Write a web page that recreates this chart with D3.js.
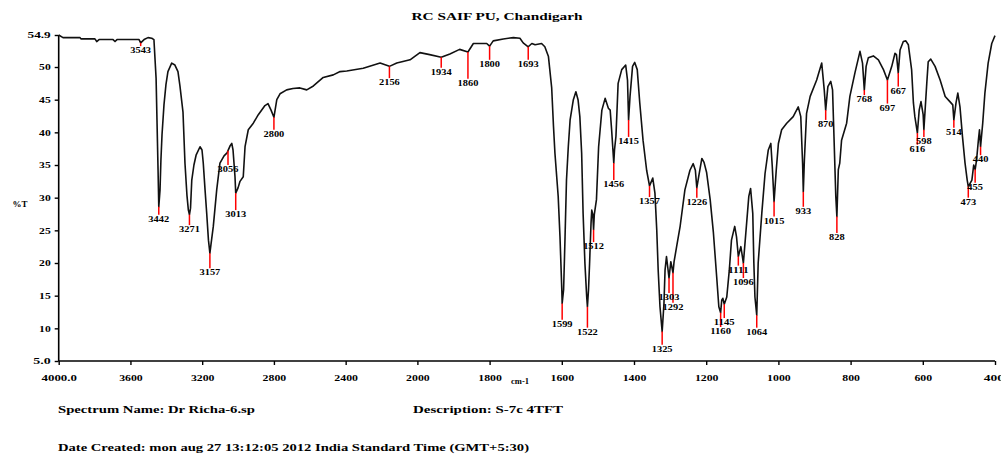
<!DOCTYPE html>
<html>
<head>
<meta charset="utf-8">
<script src="https://cdn.jsdelivr.net/npm/d3@7"></script>
<style>
  body { margin: 0; background: #fff; }
  svg { display: block; }
  text { font-family: "Liberation Serif", "DejaVu Serif", serif; font-weight: bold; fill: #000; }
</style>
</head>
<body>
<div id="chart"></div>
<script>
// spectrum (cm-1 / %T)
var wavenumbers = [4000,3976,3881,3876,3798,3788,3775,3697,3686,3675,3552,3543,3524,3502,3481,3469,3457,3452,3446,3442,
  3435,3430,3424,3413,3402,3391,3370,3352,3335,3324,3307,3296,3285,3277,3271,3265,3258,3246,3234,3212,
  3201,3194,3184,3175,3165,3157,3151,3138,3119,3101,3078,3060,3056,3045,3035,3028,3017,3013,3000,2989,
  2971,2961,2943,2915,2887,2850,2833,2816,2800,2784,2766,2729,2694,2655,2617,2580,2525,2469,2431,2394,
  2302,2208,2156,2115,2041,1993,1966,1934,1910,1883,1860,1845,1808,1800,1790,1762,1734,1716,1707,1693,
  1683,1674,1656,1647,1637,1628,1623,1619,1610,1605,1600,1599,1595,1591,1587,1582,1577,1568,1561,1555,
  1550,1545,1541,1536,1531,1529,1526,1523,1519,1517,1514,1512,1510,1504,1498,1489,1480,1471,1466,1462,
  1456,1454,1450,1444,1434,1423,1418,1415,1411,1404,1398,1391,1384,1375,1365,1357,1348,1342,1337,1333,
  1328,1322,1317,1314,1310,1303,1298,1292,1289,1281,1272,1259,1245,1236,1230,1226,1220,1212,1206,1199,
  1189,1180,1171,1165,1160,1157,1154,1150,1143,1136,1130,1121,1116,1111,1104,1097,1088,1082,1077,1071,
  1068,1065,1060,1056,1046,1037,1028,1021,1017,1012,1006,1000,991,977,959,945,938,933,931,928,
  922,912,894,880,873,869,863,855,850,846,841,838,834,830,825,811,802,788,774,767,
  762,757,751,737,723,709,698,686,677,673,668,663,654,647,640,631,626,622,615,610,
  605,599,597,589,585,578,566,552,538,525,517,514,508,503,497,490,483,477,474,464,
  459,455,451,446,443,440,434,428,419,409,403,400];
var transmittance = [54.9,54.5,54.5,54.3,54.3,53.9,54.2,54.2,53.9,54.2,54.2,53.7,54.2,54.5,54.4,54.2,48.3,41.9,34.2,28.6,
  31.2,35.8,39.6,44.2,47.3,49.3,50.6,50.3,49.3,47.1,43.1,35.3,30.4,28.1,27.4,28.4,32.7,35.0,36.5,37.8,
  37.3,35.3,31.2,27.7,23.5,21.5,22.8,25.6,31.2,35.3,36.4,36.9,37.2,37.9,38.3,37.3,33.2,30.7,31.5,32.5,
  33.2,37.8,40.4,41.4,42.7,44.1,44.4,43.4,42.3,45.0,45.9,46.5,46.7,46.8,46.5,47.1,48.4,48.8,49.3,49.4,
  49.8,50.6,50.1,50.6,51.1,52.2,51.9,51.5,52.0,52.7,52.3,53.6,53.6,53.2,54.0,54.3,54.5,54.4,53.7,53.1,
  53.6,53.4,53.6,53.1,51.6,46.8,40.9,36.8,30.2,24.0,15.9,13.8,15.9,24.0,32.7,37.8,41.9,45.0,46.2,45.0,
  42.4,36.8,27.6,20.0,14.8,13.3,15.9,20.0,26.1,28.1,27.4,25.1,27.4,29.7,37.8,43.4,45.2,43.7,43.4,40.4,
  35.3,37.3,39.4,47.5,49.6,50.3,48.0,41.9,45.5,50.1,50.7,49.6,44.5,38.8,34.2,31.8,33.0,30.7,25.1,18.9,
  13.3,9.5,13.8,18.9,21.0,17.7,20.2,18.5,20.2,22.8,25.7,31.2,34.2,35.2,34.2,31.5,33.5,36.0,35.4,33.9,
  29.7,24.6,17.9,13.3,12.4,14.3,14.6,13.7,14.8,18.9,23.5,25.6,24.0,21.0,22.5,20.0,26.1,30.2,31.4,27.6,
  20.0,14.8,12.0,20.0,27.6,33.7,37.3,38.3,34.8,29.4,34.2,38.3,40.4,41.4,42.4,43.9,42.4,35.3,30.9,35.8,
  42.9,45.5,48.0,50.6,46.5,43.4,47.0,47.8,46.5,39.3,30.2,27.1,34.3,35.3,38.8,41.4,45.5,49.1,52.4,50.6,
  46.5,50.1,51.4,51.7,51.1,49.6,48.0,50.1,52.1,51.9,49.1,52.6,53.9,54.0,53.4,49.6,44.5,42.4,39.9,43.4,
  44.7,42.7,40.4,47.5,50.8,51.2,50.1,48.0,45.5,44.7,44.2,41.9,44.5,46.0,43.9,39.3,35.3,32.7,31.7,32.7,
  35.0,34.3,35.8,38.8,40.4,37.8,41.4,46.0,50.6,53.6,54.4,54.8];

// peak picks
var peakWn   = [3543,3442,3271,3157,3056,3013,2800,2156,1934,1860,1800,1693,1599,1529,1512,1456,1415,1357,1322,1303,
  1292,1226,1160,1150,1111,1097,1060,1012,931,869,838,762,698,668,615,597,514,474,455,440];
var peakT    = [53.7,28.6,27.4,21.5,37.2,30.7,42.3,50.1,51.5,52.3,53.2,53.1,13.8,13.3,25.1,35.3,41.9,31.8,9.5,17.7,
  18.5,31.5,12.4,13.7,21.0,20.0,12.0,29.4,30.9,43.4,27.1,46.5,48.0,49.1,39.9,40.4,41.9,31.7,34.3,37.8];
var peakText = ["3543","3442","3271","3157","3056","3013","2800","2156","1934","1860","1800","1693","1599","1522","1512","1456","1415","1357","1325","1303",
  "1292","1226","1160","1145","1111","1096","1064","1015","933","870","828","768","697","667","616","598","514","473","455","440"];
// where each red marker stops (%T)
var peakEnd  = [53.2,27.4,25.8,19.2,35.0,28.1,40.4,48.3,49.9,48.2,51.1,51.1,11.3,10.1,23.2,32.7,39.3,30.1,7.5,15.4,
  13.9,30.0,10.2,11.6,19.6,17.7,10.1,27.1,28.6,41.9,24.6,45.7,44.4,47.0,38.1,39.3,40.7,30.0,32.3,36.5];

var yTicks = [54.9,50,45,40,35,30,25,20,15,10,5];
var yTickText = ["54.9","50","45","40","35","30","25","20","15","10","5.0"];
var xTicks = [4000,3600,3200,2800,2400,2000,1800,1600,1400,1200,1000,800,600,400];
var xTickText = ["4000.0","3600","3200","2800","2400","2000","1800","1600","1400","1200","1000","800","600","400."];

var width = 1001, height = 455;

var svg = d3.select('#chart').append('svg')
  .attr('width', width).attr('height', height);

// 4000-2000 is drawn at half scale
var x = d3.scaleLinear().domain([4000, 2000, 400]).range([58.7, 417.4, 995]);
var y = d3.scaleLinear().domain([5, 54.9]).range([361, 35]);

// axes
var xAxis = d3.axisBottom(x).tickValues(xTicks).tickSize(4)
  .tickFormat(function (d, i) { return xTickText[i]; });
var gx = svg.append('g').attr('transform', 'translate(0,' + y(5) + ')').call(xAxis);
gx.select('.domain').attr('stroke', '#000').attr('stroke-width', 1.6)
  .attr('d', 'M' + x(4000) + ',0H' + x(400));
gx.selectAll('.tick line').attr('stroke-width', 1.4);
gx.selectAll('.tick text').attr('y', 14).style('font-size', '9px')
  .attr('textLength', function (d, i) { return xTickText[i].length * 5.9; })
  .attr('lengthAdjust', 'spacingAndGlyphs');

var yAxis = d3.axisLeft(y).tickValues(yTicks).tickSize(4)
  .tickFormat(function (d, i) { return yTickText[i]; });
var gy = svg.append('g').attr('transform', 'translate(' + x(4000) + ',0)').call(yAxis);
gy.select('.domain').attr('stroke', '#000').attr('stroke-width', 1.6)
  .attr('d', 'M0,' + y(54.9) + 'V' + y(5));
gy.selectAll('.tick line').attr('stroke-width', 1.4);
gy.selectAll('.tick text').attr('x', -8).style('font-size', '9px')
  .attr('textLength', function (d, i) { return yTickText[i].length * 5.8; })
  .attr('lengthAdjust', 'spacingAndGlyphs');

// spectrum line
var pts = wavenumbers.map(function (w, i) { return [w, transmittance[i]]; });
var line = d3.line()
  .x(function (d) { return x(d[0]); })
  .y(function (d) { return y(d[1]); });

svg.append('path')
  .datum(pts)
  .attr('d', line)
  .attr('fill', 'none')
  .attr('stroke', '#111')
  .attr('stroke-width', 1.6)
  .attr('stroke-linejoin', 'round');

// peak markers and labels
var peaks = peakWn.map(function (w, i) {
  return { w: w, t: peakT[i], end: peakEnd[i], text: peakText[i] };
});

svg.selectAll('.pk').data(peaks).enter().append('line')
  .attr('class', 'pk')
  .attr('x1', function (d) { return x(d.w); })
  .attr('x2', function (d) { return x(d.w); })
  .attr('y1', function (d) { return y(d.t); })
  .attr('y2', function (d) { return y(d.end); })
  .attr('stroke', '#ff0000')
  .attr('stroke-width', 1.5);

svg.selectAll('.pklabel').data(peaks).enter().append('text')
  .attr('class', 'pklabel')
  .attr('x', function (d) { return x(d.w); })
  .attr('y', function (d) { return y(d.end) + 7; })
  .attr('text-anchor', 'middle')
  .style('font-size', '8px')
  .attr('textLength', function (d) { return d.text.length * 5.2; })
  .attr('lengthAdjust', 'spacingAndGlyphs')
  .text(function (d) { return d.text; });

// titles and notes
svg.append('text').attr('x', 497).attr('y', 20).attr('text-anchor', 'middle')
  .style('font-size', '11px').attr('textLength', 171).attr('lengthAdjust', 'spacingAndGlyphs')
  .text('RC SAIF PU, Chandigarh');

svg.append('text').attr('x', 20).attr('y', 207).attr('text-anchor', 'middle')
  .style('font-size', '9px').attr('textLength', 15).attr('lengthAdjust', 'spacingAndGlyphs')
  .text('%T');

svg.append('text').attr('x', 520).attr('y', 384).attr('text-anchor', 'middle')
  .style('font-size', '8px').attr('textLength', 18).attr('lengthAdjust', 'spacingAndGlyphs')
  .text('cm-1');

svg.append('text').attr('x', 58).attr('y', 413)
  .style('font-size', '10px').attr('textLength', 197).attr('lengthAdjust', 'spacingAndGlyphs')
  .text('Spectrum Name: Dr Richa-6.sp');

svg.append('text').attr('x', 413).attr('y', 413)
  .style('font-size', '10px').attr('textLength', 150).attr('lengthAdjust', 'spacingAndGlyphs')
  .text('Description: S-7c 4TFT');

svg.append('text').attr('x', 58).attr('y', 451)
  .style('font-size', '10px').attr('textLength', 471).attr('lengthAdjust', 'spacingAndGlyphs')
  .text('Date Created: mon aug 27 13:12:05 2012 India Standard Time (GMT+5:30)');
</script>
</body>
</html>
